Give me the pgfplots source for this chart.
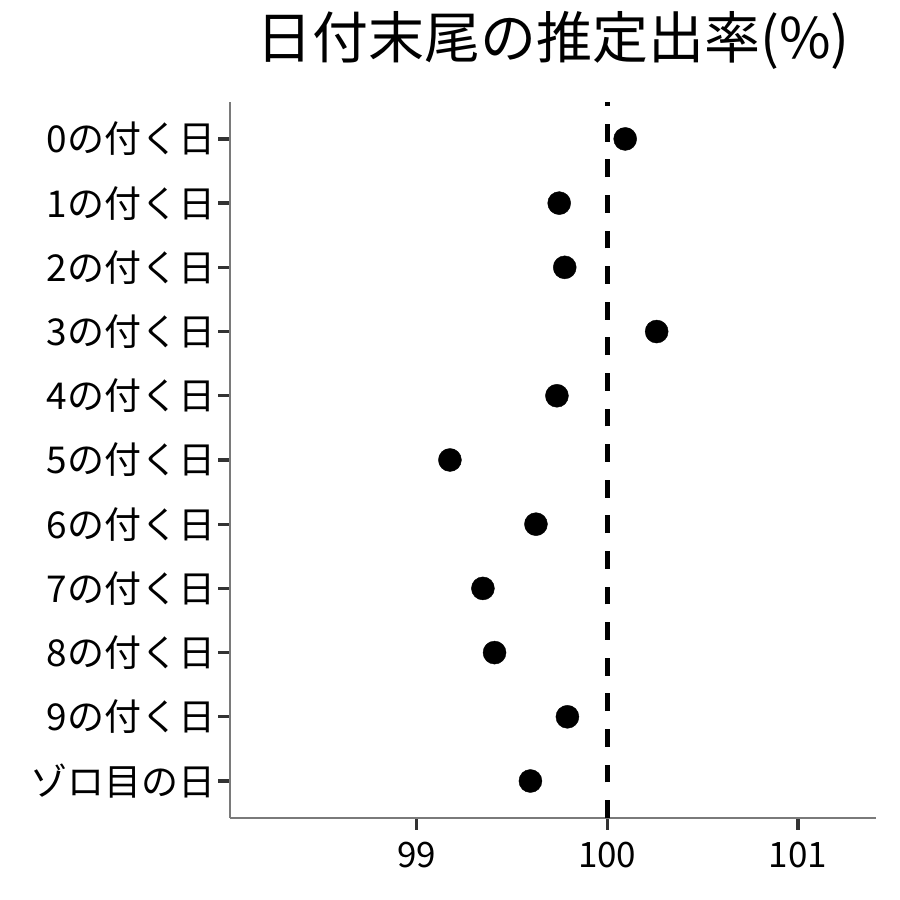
\documentclass[border=0pt]{standalone}
\usepackage{fontspec}
\setmainfont{Noto Sans CJK JP}
\usepackage{pgfplots}
\usepackage{pgfplotstable}
\pgfplotsset{compat=1.18}

% pos 11 = top row, 1 = bottom row
\pgfplotstableread{
pos rate
11 100.094
10 99.748
9  99.777
8  100.259
7  99.736
6  99.175
5  99.626
4  99.348
3  99.409
2  99.791
1  99.597
}\ratetable

\begin{document}
\begin{tikzpicture}[x=1pt,y=1pt]
\path[use as bounding box] (0,0) rectangle (900,900);
\begin{axis}[
  at={(230.4pt,82pt)}, anchor=south west,
  scale only axis,
  width=645.6pt, height=716.3pt,
  xmin=98.024, xmax=101.409,
  ymin=0.424, ymax=11.58,
  axis x line*=bottom, axis y line*=left,
  axis line style={-, draw=black!52, line width=1.8pt},
  xtick={99,100,101},
  ytick={1,...,11},
  yticklabels={ゾロ目の日,9の付く日,8の付く日,7の付く日,6の付く日,5の付く日,4の付く日,3の付く日,2の付く日,1の付く日,0の付く日},
  tick align=outside,
  major tick length=12pt,
  tick style={draw=black!80, line width=3.3pt},
  ticklabel style={text=black},
  yticklabel style={font=\fontsize{37}{42}\selectfont, anchor=east, inner sep=0pt, xshift=-3pt},
  xticklabel style={font=\fontsize{35}{40}\selectfont, anchor=base, inner sep=0pt, yshift=-38pt},
  /pgf/number format/assume math mode=true,
  title={日付末尾の推定出率(\%)},
  title style={font=\fontsize{56}{60}\selectfont, at={(0.5,1)}, anchor=base, yshift=36.7pt, inner sep=0pt},
  clip=false,
]
\addplot[black, line width=4.5pt, dash pattern=on 17.8pt off 17.8pt] coordinates {(100,0.424) (100,11.58)};
\addplot[only marks, mark=*, mark size=11.5pt, black] table[x=rate, y=pos] {\ratetable};
\end{axis}
\end{tikzpicture}
\end{document}
